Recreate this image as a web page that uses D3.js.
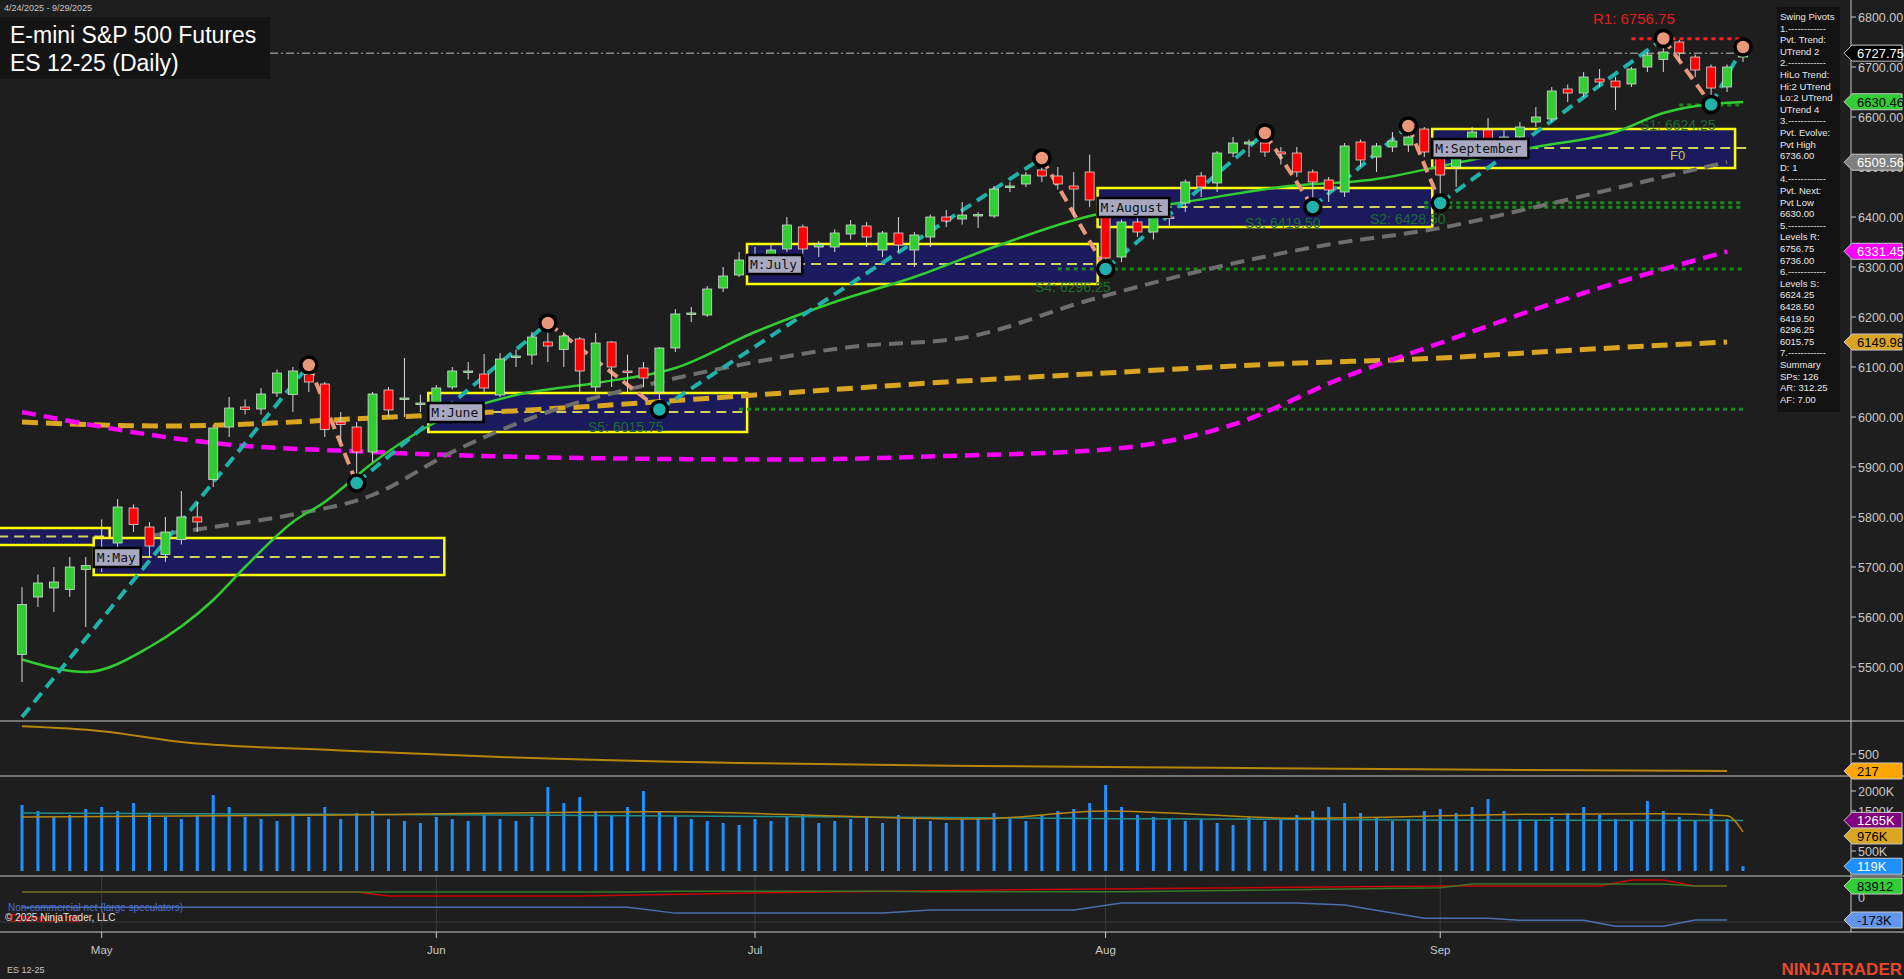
<!DOCTYPE html>
<html><head><meta charset="utf-8">
<script src="https://cdn.jsdelivr.net/npm/d3@7"></script>
<style>body{margin:0;background:#1e1e1e;overflow:hidden}svg{display:block;font-family:"Liberation Sans",Arial,sans-serif}</style>
</head><body><svg id="c" width="1904" height="979"></svg>
<script>
// ---- DATA ----
const ohlc = [
[5525,5660,5470,5625],[5640,5685,5620,5668],[5658,5700,5610,5670],[5655,5720,5640,5700],[5695,5720,5580,5703],
[5700,5795,5690,5710],[5748,5836,5740,5820],[5818,5825,5770,5785],[5780,5790,5720,5742],[5725,5800,5710,5770],
[5755,5852,5745,5800],[5800,5830,5770,5790],[5875,5985,5860,5978],[5980,6040,5960,6018],[6020,6035,6005,6015],
[6016,6058,6005,6046],[6048,6095,6040,6088],[6045,6100,6010,6092],[6085,6110,6050,6070],[6066,6070,5960,5975],
[5990,6010,5950,5985],[5980,5990,5868,5930],[5930,6050,5910,6046],[6054,6060,6000,6014],[6035,6118,6000,6038],
[6025,6045,6010,6028],[6014,6064,5990,6058],[6060,6100,6055,6092],[6090,6110,6075,6092],[6086,6126,6050,6058],
[6044,6128,6040,6116],[6120,6135,6100,6122],[6124,6170,6105,6160],[6150,6190,6110,6142],[6135,6170,6100,6162],
[6156,6160,6050,6092],[6060,6168,6050,6148],[6150,6152,6060,6100],[6092,6125,6050,6090],[6098,6110,6060,6078],
[6050,6140,6015,6138],[6138,6216,6130,6206],[6205,6220,6190,6208],[6204,6262,6200,6256],[6258,6300,6250,6282],
[6284,6330,6280,6314],[6314,6340,6300,6320],[6308,6345,6295,6334],[6336,6400,6330,6384],[6380,6385,6320,6336],
[6340,6352,6320,6345],[6340,6375,6330,6368],[6366,6394,6355,6384],[6382,6390,6340,6360],[6334,6372,6320,6368],
[6368,6400,6330,6344],[6334,6370,6300,6364],[6360,6405,6340,6400],[6400,6414,6380,6392],[6396,6430,6385,6404],
[6404,6410,6378,6405],[6402,6462,6398,6456],[6460,6470,6450,6462],[6466,6490,6460,6484],[6494,6518,6470,6482],
[6482,6500,6455,6466],[6462,6490,6400,6456],[6490,6525,6420,6434],[6420,6430,6296,6318],[6320,6395,6310,6390],
[6390,6405,6360,6370],[6370,6410,6355,6400],[6400,6440,6380,6398],[6428,6475,6410,6470],[6482,6490,6440,6460],
[6468,6532,6450,6528],[6528,6560,6520,6548],[6546,6555,6520,6550],[6548,6570,6520,6530],[6530,6540,6505,6526],
[6528,6540,6480,6490],[6490,6495,6420,6470],[6474,6480,6430,6454],[6450,6548,6440,6542],[6550,6555,6500,6514],
[6520,6548,6490,6542],[6540,6570,6530,6552],[6544,6585,6530,6560],[6576,6580,6520,6530],[6538,6540,6428,6484],
[6500,6535,6460,6520],[6540,6580,6530,6570],[6574,6598,6540,6548],[6552,6575,6530,6560],[6560,6590,6550,6580],
[6590,6620,6580,6600],[6596,6660,6590,6652],[6656,6665,6630,6648],[6648,6690,6640,6680],[6676,6696,6660,6670],
[6672,6680,6614,6660],[6666,6700,6660,6696],[6700,6730,6690,6724],[6715,6757,6690,6730],[6750,6754,6710,6728],
[6720,6725,6680,6694],[6700,6705,6625,6658],[6660,6705,6650,6700],[6720,6740,6710,6728]];
const volume = [1650,1500,1350,1400,1550,1600,1500,1700,1450,1350,1300,1400,1900,1600,1350,1300,1250,1400,1350,1600,
1300,1450,1500,1300,1250,1200,1350,1300,1250,1400,1300,1250,1350,2100,1700,1850,1500,1400,1600,2000,
1500,1350,1300,1250,1200,1150,1300,1250,1350,1400,1200,1250,1300,1350,1200,1400,1300,1250,1200,1300,
1350,1450,1300,1250,1400,1500,1550,1700,2150,1600,1400,1350,1300,1250,1300,1200,1150,1350,1250,1300,
1400,1500,1600,1700,1450,1350,1250,1300,1500,1550,1450,1600,1800,1500,1300,1250,1350,1450,1600,1400,
1300,1250,1750,1500,1350,1250,1550,1300,119];
const volAvg = [[0,1350],[20,1400],[40,1480],[60,1300],[68,1500],[80,1320],[95,1420],[103,1430],[107,1380],[108,976]];
const volMid = [[0,1450],[30,1400],[60,1330],[90,1270],[108,1265]];
const maFast = [[0,5515],[4,5490],[8,5540],[12,5634],[14,5700],[17,5790],[19,5830],[22,5908],[26,5990],[31,6044],[36,6068],[41,6098],[46,6170],[51,6230],[56,6280],[61,6340],[67,6402],[73,6430],[79,6460],[85,6476],[90,6508],[95,6540],[100,6570],[103,6608],[106,6626],[108,6630]];
const maMid = [[8,5762],[12,5780],[17,5805],[22,5844],[27,5930],[33,6010],[40,6070],[46,6110],[52,6140],[59,6158],[67,6234],[75,6300],[82,6345],[89,6378],[95,6420],[101,6465],[107,6510]];
const maSlow = [[0,6010],[12,5948],[22,5930],[35,5918],[48,5915],[58,5922],[68,5935],[76,5985],[83,6080],[89,6148],[98,6248],[107,6331]];
const maLong = [[0,5990],[9,5982],[22,5998],[35,6020],[46,6044],[58,6070],[68,6088],[78,6105],[89,6118],[98,6135],[107,6150]];
const pivots = [[0,5400,"L"],[18,6104,"H"],[21,5868,"L"],[33,6188,"H"],[40,6015,"L"],[64,6518,"H"],[68,6296,"L"],[78,6568,"H"],[81,6420,"L"],[87,6582,"H"],[89,6428,"L"],[103,6757,"H"],[106,6625,"L"],[108,6740,"H"]];
const monthBoxes = [["",-2,5,5778,5744,5761],["M:May",5,26,5758,5684,5720],["M:June",26,45,6048,5970,6010],["M:July",46,67,6346,6266,6306],["M:August",68,88,6458,6380,6420],["M:September",89,107,6576,6498,6538]];
const supports = [["S1: 6624.25",6624.25,104],["S2: 6428.50",6428.5,88],["S3: 6419.50",6419.5,88],["S4: 6296.25",6296.25,65],["S5: 6015.75",6015.75,45]];
const atr = [[0,960],[5,880],[10,700],[20,560],[30,450],[45,350],[60,300],[75,270],[90,240],[107,217]];
const cotGreen = [[0,38],[38,38],[41,45],[54,45],[57,40],[66,40],[69,40],[89,70],[91,100],[103,100],[105,84],[107,84]];
const cotRed = [[0,38],[21,38],[23,8],[35,8],[45,30],[66,60],[89,84],[99,84],[101,130],[103,130],[105,84],[107,84]];
const cotBlue = [[0,-76],[38,-76],[41,-121],[54,-121],[57,-98],[66,-98],[69,-45],[80,-45],[83,-60],[88,-160],[92,-160],[94,-175],[98,-175],[100,-220],[103,-220],[105,-173],[107,-173]];
const monthNames = ["May","Jun","Jul","Aug","Sep"];
const monthStart = [5,26,46,68,89];
const priceTicks = [6800,6700,6600,6500,6400,6300,6200,6100,6000,5900,5800,5700,5600,5500];
const tags = [["6727.75",6727.75,"#000","#fff"],["6630.46",6630.46,"#32cd32","#000"],["6509.56",6509.56,"#808080","#fff"],["6331.45",6331.45,"#ff00ff","#fff"],["6149.98",6149.98,"#daa520","#000"]];
const infoLines = ["Swing Pivots","1.------------","Pvt. Trend:","UTrend 2","2.------------","HiLo Trend:","Hi:2 UTrend","Lo:2 UTrend","UTrend 4","3.------------","Pvt. Evolve:","Pvt High","6736.00","D: 1","4.------------","Pvt. Next:","Pvt Low","6630.00","5.------------","Levels R:","6756.75","6736.00","6.------------","Levels S:","6624.25","6428.50","6419.50","6296.25","6015.75","7.------------","Summary","SPs: 126","AR: 312.25","AF: 7.00"];

// ---- DRAW ----
const svg = d3.select("#c");
const W=1904, AX=1851;
const x = d3.scaleLinear().domain([0,108]).range([22,1743]);
const y = d3.scaleLinear().domain([5392,6800]).range([721,17]);
const yA = d3.scaleLinear().domain([217,500]).range([771,754]);
const yV = d3.scaleLinear().domain([0,2000]).range([871,791]);
const yC = d3.scaleLinear().domain([-173,84]).range([920,886]);
svg.append("rect").attr("width",W).attr("height",979).attr("fill","#1e1e1e");
svg.append("defs").append("clipPath").attr("id","mp").append("rect").attr("x",0).attr("y",0).attr("width",AX).attr("height",721);
const main = svg.append("g").attr("clip-path","url(#mp)");

monthBoxes.forEach(b=>{
  const x0=x(b[1])-8, x1=x(b[2])+8;
  main.append("rect").attr("x",x0).attr("y",y(b[3])).attr("width",x1-x0).attr("height",y(b[4])-y(b[3])).attr("fill","#1a1a5c").attr("stroke","#ffff00").attr("stroke-width",2.5);
  main.append("line").attr("x1",x0).attr("x2",x1+(b[0]==="M:September"?16:0)).attr("y1",y(b[5])).attr("y2",y(b[5])).attr("stroke","#d0d060").attr("stroke-width",2).attr("stroke-dasharray","10,6");
});
supports.forEach(s=>{
  main.append("line").attr("x1",x(s[2])).attr("x2",x(108)).attr("y1",y(s[1])).attr("y2",y(s[1])).attr("stroke","#1a8a1a").attr("stroke-width",3).attr("stroke-dasharray","4,4");
});
main.append("line").attr("x1",x(101)).attr("x2",x(108)).attr("y1",y(6756.75)).attr("y2",y(6756.75)).attr("stroke","#ff2020").attr("stroke-width",3).attr("stroke-dasharray","4,4");
main.append("line").attr("x1",270).attr("x2",x(108)).attr("y1",y(6727.75)).attr("y2",y(6727.75)).attr("stroke","#8a8a8a").attr("stroke-width",1.5).attr("stroke-dasharray","8,3,2,3");
supports.forEach((s,i)=>{
  const pos=[[1640,130],[1370,224],[1245,228],[1035,292],[588,432]][i];
  main.append("text").attr("x",pos[0]).attr("y",pos[1]).attr("fill","#1c6d34").attr("font-size",14).text(s[0]);
});
main.append("text").attr("x",1593).attr("y",24).attr("fill","#e02020").attr("font-size",15).text("R1: 6756.75");

const ln = d3.line().x(d=>x(d[0])).y(d=>y(d[1])).curve(d3.curveMonotoneX);
main.append("path").attr("d",ln(maLong)).attr("fill","none").attr("stroke","#daa520").attr("stroke-width",5).attr("stroke-dasharray","16,8");
main.append("path").attr("d",ln(maSlow)).attr("fill","none").attr("stroke","#ff00ff").attr("stroke-width",4.5).attr("stroke-dasharray","14,8");
main.append("path").attr("d",ln(maMid)).attr("fill","none").attr("stroke","#6e6e6e").attr("stroke-width",4).attr("stroke-dasharray","14,8");
main.append("path").attr("d",ln(maFast)).attr("fill","none").attr("stroke","#32cd32").attr("stroke-width",2.5);

for(let i=0;i<pivots.length-1;i++){
  const a=pivots[i], b=pivots[i+1];
  main.append("line").attr("x1",x(a[0])).attr("y1",y(a[1])).attr("x2",x(b[0])).attr("y2",y(b[1]))
   .attr("stroke",a[2]==="L"?"#20b2aa":"#e9967a").attr("stroke-width",4).attr("stroke-dasharray","12,7");
}
const cw=9;
ohlc.forEach((d,i)=>{
  const [o,h,l,c]=d, up=c>=o, cx=x(i);
  main.append("line").attr("x1",cx).attr("x2",cx).attr("y1",y(h)).attr("y2",y(l)).attr("stroke","#d8d8d8").attr("stroke-width",1);
  const t=y(Math.max(o,c)), bt=y(Math.min(o,c));
  main.append("rect").attr("x",cx-cw/2).attr("y",t).attr("width",cw).attr("height",Math.max(1.5,bt-t)).attr("fill",up?"#32cd32":"#ff0000").attr("stroke","#d8d8d8").attr("stroke-width",0.8);
});
pivots.slice(1).forEach(p=>{
  main.append("circle").attr("cx",x(p[0])).attr("cy",y(p[1])).attr("r",8).attr("fill",p[2]==="H"?"#e9967a":"#20b2aa").attr("stroke","#000").attr("stroke-width",3.5);
});
monthBoxes.forEach(b=>{
  if(!b[0])return;
  const g=main.append("g"), tx=x(b[1])-8, ty=y(b[5])-9;
  const w=b[0].length*8.2+6;
  g.append("rect").attr("x",tx).attr("y",ty).attr("width",w).attr("height",19).attr("fill","#a8a8c0").attr("stroke","#000").attr("stroke-width",2.5);
  g.append("text").attr("x",tx+3).attr("y",ty+14).attr("font-family","DejaVu Sans Mono, monospace").attr("font-size",13).attr("fill","#111").text(b[0]);
});
main.append("text").attr("x",1670).attr("y",160).attr("fill","#c8c850").attr("font-size",13).text("F0");

// separators, month grid and axis
monthStart.forEach(i=>{
  svg.append("line").attr("x1",x(i)).attr("x2",x(i)).attr("y1",876).attr("y2",932).attr("stroke","#3a3a3a");
  svg.append("line").attr("x1",x(i)).attr("x2",x(i)).attr("y1",932).attr("y2",938).attr("stroke","#c8c8c8");
});
svg.append("line").attr("x1",0).attr("x2",AX).attr("y1",922).attr("y2",922).attr("stroke","#3a3a3a");
[721,776,876,932].forEach(v=>svg.append("line").attr("x1",0).attr("x2",W).attr("y1",v).attr("y2",v).attr("stroke","#c8c8c8").attr("stroke-width",1.2));
svg.append("line").attr("x1",AX).attr("x2",AX).attr("y1",0).attr("y2",932).attr("stroke","#c8c8c8");
priceTicks.forEach(p=>{
  svg.append("line").attr("x1",AX).attr("x2",AX+5).attr("y1",y(p)).attr("y2",y(p)).attr("stroke","#c8c8c8");
  svg.append("text").attr("x",AX+7).attr("y",y(p)+5).attr("fill","#c8c8c8").attr("font-size",12.5).text(p.toFixed(2));
});
function tag(label,yy,bg,fg){
  svg.append("path").attr("d",`M${AX-7},${yy} L${AX+1},${yy-8} L${W-2},${yy-8} L${W-2},${yy+8} L${AX+1},${yy+8} Z`).attr("fill",bg).attr("stroke","#c8c8c8").attr("stroke-width",1);
  svg.append("text").attr("x",AX+6).attr("y",yy+5).attr("fill",fg).attr("font-size",13).text(label);
}
tags.forEach(t=>tag(t[0],y(t[1]),t[2],t[3]));

svg.append("rect").attr("x",1777).attr("y",7).attr("width",63).attr("height",405).attr("fill","#121212");
infoLines.forEach((t,i)=>svg.append("text").attr("x",1780).attr("y",20+i*11.6).attr("fill","#e8e8e8").attr("font-size",9.5).text(t));

svg.append("rect").attr("x",0).attr("y",17).attr("width",270).attr("height",62).attr("fill","#141414");
svg.append("text").attr("x",4).attr("y",11).attr("fill","#c8c8c8").attr("font-size",9).text("4/24/2025 - 9/29/2025");
svg.append("text").attr("x",10).attr("y",43).attr("fill","#fff").attr("font-size",23).text("E-mini S&P 500 Futures");
svg.append("text").attr("x",10).attr("y",71).attr("fill","#fff").attr("font-size",23).text("ES 12-25 (Daily)");

const la = d3.line().x(d=>x(d[0])).y(d=>yA(d[1])).curve(d3.curveMonotoneX);
svg.append("path").attr("d",la(atr)).attr("fill","none").attr("stroke","#b8860b").attr("stroke-width",2);
svg.append("line").attr("x1",AX).attr("x2",AX+5).attr("y1",yA(500)).attr("y2",yA(500)).attr("stroke","#c8c8c8");
svg.append("text").attr("x",AX+7).attr("y",yA(500)+5).attr("fill","#c8c8c8").attr("font-size",12.5).text("500");
tag("217",yA(217),"#ffa500","#000");

volume.forEach((v,i)=>svg.append("rect").attr("x",x(i)-1.5).attr("y",yV(v)).attr("width",3).attr("height",yV(0)-yV(v)).attr("fill","#1e90ff"));
const lv = d3.line().x(d=>x(d[0])).y(d=>yV(d[1])).curve(d3.curveMonotoneX);
svg.append("path").attr("d",lv(volMid)).attr("fill","none").attr("stroke","#1f8f8f").attr("stroke-width",1.5);
svg.append("path").attr("d",lv(volAvg)).attr("fill","none").attr("stroke","#b8860b").attr("stroke-width",1.5);
[[2000,"2000K"],[1500,"1500K"],[500,"500K"]].forEach(t=>{
  svg.append("line").attr("x1",AX).attr("x2",AX+5).attr("y1",yV(t[0])).attr("y2",yV(t[0])).attr("stroke","#c8c8c8");
  svg.append("text").attr("x",AX+7).attr("y",yV(t[0])+5).attr("fill","#c8c8c8").attr("font-size",12.5).text(t[1]);
});
tag("1265K",yV(1265),"#800080","#fff");
tag("976K",yV(976)+4,"#daa520","#000");
tag("119K",yV(119),"#1e90ff","#fff");

const lc = d3.line().x(d=>x(d[0])).y(d=>yC(d[1]));
svg.append("path").attr("d",lc(cotRed)).attr("fill","none").attr("stroke","#cc0000").attr("stroke-width",1.5);
svg.append("path").attr("d",lc(cotGreen)).attr("fill","none").attr("stroke","#3a8a2a").attr("stroke-width",1.5).attr("opacity",0.85);
svg.append("path").attr("d",lc(cotBlue)).attr("fill","none").attr("stroke","#4a6fb0").attr("stroke-width",1.5);
svg.append("text").attr("x",AX+7).attr("y",yC(0)+5).attr("fill","#c8c8c8").attr("font-size",12.5).text("0");
tag("83912",yC(84),"#32cd32","#000");
tag("-173K",yC(-173),"#6495ed","#000");
svg.append("text").attr("x",9).attr("y",922).attr("fill","#ff0000").attr("font-size",10).text("Commercial net");
svg.append("text").attr("x",8).attr("y",911).attr("fill","#4a70d8").attr("font-size",10).text("Non-commercial net (large speculators)");
svg.append("text").attr("x",5).attr("y",921).attr("fill","#e0e0e0").attr("font-size",10).text("© 2025 NinjaTrader, LLC");

monthNames.forEach((m,i)=>svg.append("text").attr("x",x(monthStart[i])).attr("y",954).attr("fill","#c8c8c8").attr("font-size",11.5).attr("text-anchor","middle").text(m));
svg.append("text").attr("x",7).attr("y",973).attr("fill","#c8c8c8").attr("font-size",9).text("ES 12-25");
svg.append("text").attr("x",1902).attr("y",975).attr("fill","#e8472a").attr("font-size",17).attr("font-weight","bold").attr("text-anchor","end").text("NINJATRADER");
</script></body></html>
